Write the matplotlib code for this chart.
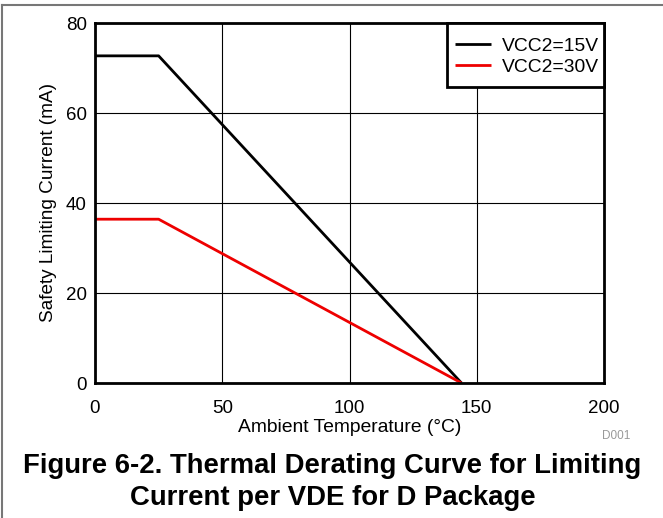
import matplotlib.pyplot as plt
from matplotlib.patches import Rectangle

plt.rcParams['font.family'] = ['Liberation Sans', 'DejaVu Sans']

# derating curves (ambient temperature in C, current in mA)
temp_15v = [0, 25, 144]
current_15v = [72.7, 72.7, 0]
temp_30v = [0, 25, 144]
current_30v = [36.4, 36.4, 0]

x_ticks = [0, 50, 100, 150, 200]
y_ticks = [0, 20, 40, 60, 80]

W, H = 663, 518
fig = plt.figure(figsize=(W / 100, H / 100), dpi=100)
ax = fig.add_axes([95/W, 1 - 383/H, 509/W, 360/H])

ax.plot(temp_15v, current_15v, color='black', lw=2, label='VCC2=15V', solid_capstyle='butt')
ax.plot(temp_30v, current_30v, color='#ee0000', lw=2, label='VCC2=30V', solid_capstyle='butt')

ax.set_xlim(0, 200)
ax.set_ylim(0, 80)
ax.set_xticks(x_ticks)
ax.set_yticks(y_ticks)
ax.grid(True, color='black', lw=0.8)
ax.tick_params(length=0, labelsize=13.5)
ax.tick_params(axis='x', pad=12)
ax.tick_params(axis='y', pad=6)
for s in ax.spines.values():
    s.set_linewidth(2)

ax.set_xlabel('Ambient Temperature (°C)', fontsize=13.9, labelpad=2)
ax.set_ylabel('Safety Limiting Current (mA)', fontsize=13.7, labelpad=6)

# legend box drawn by hand so it can be taller than the legend padding allows
bx, by, bw, bh = (447 - 95) / 509, (383 - 87) / 360, 157 / 509, 64 / 360
ax.add_patch(Rectangle((bx, by), bw, bh, transform=ax.transAxes, facecolor='white',
                       edgecolor='black', lw=2, zorder=4.5, clip_on=False))
leg = ax.legend(loc='center', bbox_to_anchor=(bx + bw / 2 + 0.003, by + bh / 2 - 0.004),
                fontsize=13.9, frameon=False, handlelength=1.85, handletextpad=0.6,
                labelspacing=0.2)

fig.text(616/W, 1 - 436/H, 'D001', fontsize=8.5, color='#999999', ha='center', va='center')
fig.text(332.5/W, 1 - 473/H, 'Figure 6-2. Thermal Derating Curve for Limiting',
         fontsize=19.8, fontweight='bold', ha='center', va='baseline')
fig.text(332.5/W, 1 - 505/H, 'Current per VDE for D Package',
         fontsize=19.8, fontweight='bold', ha='center', va='baseline')

# page border
fig.add_artist(plt.Line2D([2/W, 2/W], [0, 1 - 5/H], color='#777777', lw=1.5, transform=fig.transFigure))
fig.add_artist(plt.Line2D([2/W, 1], [1 - 5/H, 1 - 5/H], color='#777777', lw=1.5, transform=fig.transFigure))

fig.savefig('out.png', dpi=100)
